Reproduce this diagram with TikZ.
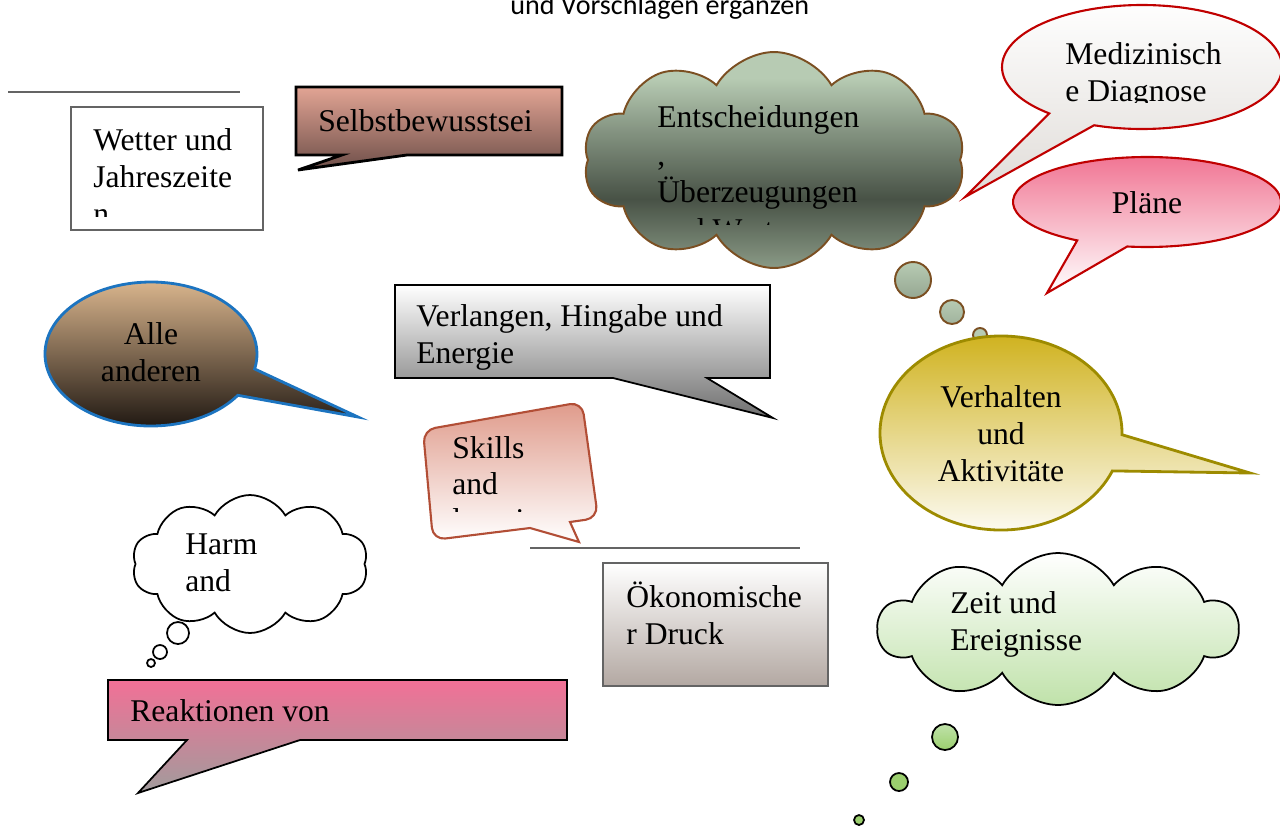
\documentclass[tikz,border=0pt]{standalone}
\usepackage{fontspec}
\setmainfont{Liberation Serif}
\newfontfamily\titlefont{Carlito}
\usetikzlibrary{shapes.symbols}

\definecolor{rahmen}{HTML}{646464}
\definecolor{lachs}{HTML}{E2A494}
\definecolor{lachsdunkel}{HTML}{6E4F49}
\definecolor{salbei}{HTML}{B7CBB3}
\definecolor{salbeidunkel}{HTML}{485246}
\definecolor{salbeimittel}{HTML}{8A9A86}
\definecolor{wolkenrand}{HTML}{7B4F22}
\definecolor{rot}{HTML}{C00000}
\definecolor{hellgrau}{HTML}{E0DCD8}
\definecolor{rosa}{HTML}{F0708F}
\definecolor{sand}{HTML}{E4BE94}
\definecolor{dunkel}{HTML}{150F0B}
\definecolor{blau}{HTML}{1C74C0}
\definecolor{mittelgrau}{HTML}{6E6E6E}
\definecolor{ziegel}{HTML}{B24E36}
\definecolor{lachshell}{HTML}{DF9A8A}
\definecolor{taupe}{HTML}{B3A8A2}
\definecolor{senf}{HTML}{CDAE12}
\definecolor{oliv}{HTML}{9D8B00}
\definecolor{mint}{HTML}{C0E2AA}
\definecolor{gruen}{HTML}{9BCF6E}
\definecolor{pink}{HTML}{F27096}
\definecolor{grau}{HTML}{A09C9C}

% Pfad liegt zwischen 25bp und 75bp der Schattierung
\pgfdeclareverticalshading{salbeiverlauf}{100bp}{color(0bp)=(salbeimittel); color(25bp)=(salbeimittel); color(41bp)=(salbeidunkel); color(57bp)=(salbei!55!salbeidunkel); color(69bp)=(salbei); color(100bp)=(salbei)}

\tikzset{
  strich/.style={draw=rahmen, line width=1.6pt},
  txt/.style={font=\fontsize{18}{21}\selectfont, inner sep=0pt, align=left, anchor=base west},
  ctxt/.style={txt, align=center, anchor=base},
  wolke/.style={cloud, cloud puffs=10, cloud puff arc=120, cloud ignores aspect, inner sep=0pt},
}

\begin{document}
\begin{tikzpicture}[x=0.02cm, y=-0.02cm]
  \useasboundingbox (0,0) rectangle (1280,825);
  \clip (0,0) rectangle (1280,825);

  % Ueberschrift, oben abgeschnitten
  \node[font=\titlefont\fontsize{16}{19}\selectfont, inner sep=0pt, anchor=base west] (titel) at (510,14) {und Vorschlägen ergänzen};

  % linke Spalte oben (Knoten sitzen auf der letzten Grundlinie)
  \draw[strich] (8,92) -- (240,92);
  \draw[strich, fill=white] (71,107) rectangle (263,230);
  \begin{scope}
    \clip (73,109) rectangle (261,216);
    \node[txt] (wetter) at (93,224) {Wetter und\\Jahreszeite\\n};
  \end{scope}

  \draw[line width=1.6pt, top color=lachs, bottom color=lachsdunkel]
    (296,87) -- (562,87) -- (562,155) -- (407,155) -- (298,170) -- (342,155) -- (296,155) -- cycle;
  \node[txt] (selbst) at (318,131) {Selbstbewusstsei};

  % grosse Wolke
  \node[wolke, draw=wolkenrand, line width=1.1pt, shading=salbeiverlauf,
    minimum width=7.64cm, minimum height=4.32cm] (wolkegross) at (774,160) {};
  \begin{scope}
    \clip (600,90) rectangle (930,224);
    \node[txt, font=\fontsize{18}{21.3}\selectfont] (entscheidungen) at (657,240) {Entscheidungen\\,\\Überzeugungen\\und Werte};
  \end{scope}
  \draw[draw=wolkenrand, line width=1.1pt, top color=salbei, bottom color=salbei!70!salbeidunkel] (913,280) circle[radius=18];
  \draw[draw=wolkenrand, line width=1.1pt, top color=salbei, bottom color=salbei!80!salbeidunkel] (952,312) circle[radius=12];
  \draw[draw=wolkenrand, line width=1.1pt, fill=salbei] (980,335) circle[radius=7];

  % Sprechblasen rechts oben
  \coordinate (medmitte) at (1142,67);
  \draw[draw=rot, line width=1.2pt, top color=white, bottom color=hellgrau]
    (medmitte) ++(131.5:140 and 62) arc[start angle=131.5, end angle=470, x radius=140, y radius=62]
    -- (965,197) -- cycle;
  \begin{scope}
    \clip (1020,20) rectangle (1260,102);
    \node[txt] (medizin) at (1065,101) {Medizinisch\\e Diagnose};
  \end{scope}

  \coordinate (planmitte) at (1147,202);
  \draw[draw=rot, line width=1.2pt, top color=rosa, bottom color=white]
    (planmitte) ++(121.4:134 and 45) arc[start angle=121.4, end angle=458.5, x radius=134, y radius=45]
    -- (1047,293) -- cycle;
  \node[ctxt] (plaene) at (1147,213) {Pläne};

  % Alle anderen
  \coordinate (allemitte) at (151,354);
  \draw[draw=blau, line width=1.6pt, top color=sand, bottom color=dunkel]
    (allemitte) ++(35:106 and 72) arc[start angle=35, end angle=372, x radius=106, y radius=72]
    -- (358,417) -- cycle;
  \node[ctxt] (alle) at (151,381) {Alle\\anderen};

  % Verlangen
  \draw[line width=1pt, top color=white, bottom color=mittelgrau]
    (395,285) -- (770,285) -- (770,378) -- (707,378) -- (773,418) -- (613,378) -- (395,378) -- cycle;
  \node[txt] (verlangen) at (416,363) {Verlangen, Hingabe und\\Energie};

  % Skills
  \draw[draw=ziegel, line width=1.2pt, top color=lachshell, bottom color=white]
    (433,540) [rounded corners=7pt] -- (423,430) -- (582,402) -- (598,518) [sharp corners] -- (570,522)
    -- (579,542) -- (530,528) [rounded corners=7pt] -- cycle;
  \begin{scope}
    \clip (425,400) rectangle (600,511);
    \node[txt, font=\fontsize{18}{20.3}\selectfont] (skills) at (452,530) {Skills\\and\\learning};
  \end{scope}

  % Mitte unten
  \draw[strich] (530,548) -- (800,548);
  \draw[strich, top color=white, bottom color=taupe] (603,563) rectangle (828,686);
  \node[txt] (oekonomisch) at (626,644) {Ökonomische\\r Druck};

  % Verhalten
  \coordinate (verhmitte) at (1001,433);
  \draw[draw=oliv, line width=1.6pt, top color=senf, bottom color=white]
    (verhmitte) ++(23:121 and 97) arc[start angle=23, end angle=361, x radius=121, y radius=97]
    -- (1250,473) -- cycle;
  \node[ctxt] (verhalten) at (1001,481) {Verhalten\\und\\Aktivitäte};

  % Harm-Wolke
  \node[wolke, draw, line width=1pt, fill=white, minimum width=4.72cm, minimum height=2.76cm] (wolkeharm) at (250,564) {};
  \node[txt] (harm) at (185,591) {Harm\\and};
  \draw[line width=1pt, fill=white] (178,633) circle[radius=11];
  \draw[line width=1pt, fill=white] (160,652) circle[radius=7];
  \draw[line width=1pt, fill=white] (151,663) circle[radius=4];

  % Zeit-Wolke
  \node[wolke, draw, line width=1pt, top color=white, bottom color=mint, minimum width=7.2cm, minimum height=3.04cm] (wolkezeit) at (1058,629) {};
  \node[txt] (zeit) at (950,650) {Zeit und\\Ereignisse};
  \draw[line width=1pt, top color=mint, bottom color=gruen] (945,737) circle[radius=13];
  \draw[line width=1pt, fill=gruen] (899,782) circle[radius=9];
  \draw[line width=1pt, fill=gruen] (859,820) circle[radius=5];

  % Reaktionen
  \draw[line width=1pt, top color=pink, bottom color=grau]
    (108,680) -- (567,680) -- (567,740) -- (300,740) -- (138,793) -- (187,740) -- (108,740) -- cycle;
  \node[txt] (reaktionen) at (130,721) {Reaktionen von};
\end{tikzpicture}
\end{document}
